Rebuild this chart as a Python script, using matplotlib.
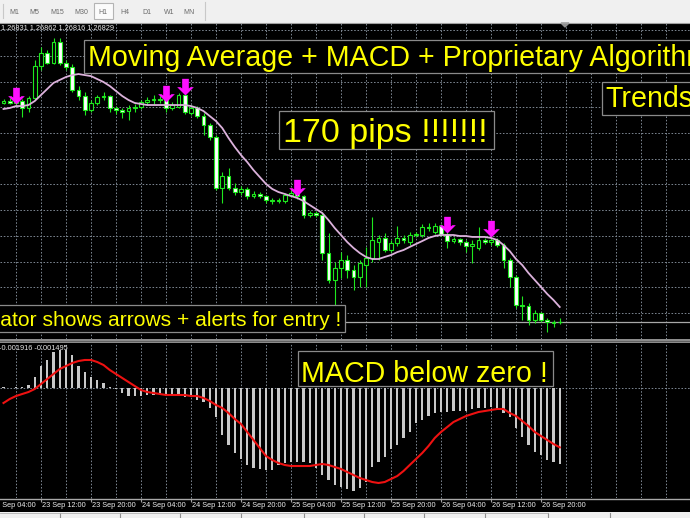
import numpy as np
import pandas as pd
import matplotlib
matplotlib.use('Agg')
import matplotlib.pyplot as plt
from matplotlib.patches import Rectangle
from matplotlib.path import Path

plt.rcParams['font.family'] = ['Liberation Sans', 'DejaVu Sans']

# EURUSD H1, first visible bar 23 Sep 2014 06:00
first_bar = '2014-09-23 06:00'

opens = [1.28534, 1.28549, 1.28534, 1.28549, 1.28495, 1.28573, 1.28821, 1.28923, 1.28845, 1.29008,
         1.28845, 1.28814, 1.28635, 1.28588, 1.28479, 1.28534, 1.28581, 1.28588, 1.28495, 1.28479,
         1.28471, 1.28495, 1.28503, 1.28541, 1.28557, 1.28565, 1.28557, 1.28495, 1.28503, 1.28596,
         1.28456, 1.28495, 1.28432, 1.28362, 1.28270, 1.27873, 1.27965, 1.27873, 1.27841, 1.27865,
         1.27810, 1.27826, 1.27810, 1.27779, 1.27771, 1.27771, 1.27818, 1.27834, 1.27810, 1.27662,
         1.27678, 1.27662, 1.27367, 1.27157, 1.27250, 1.27312, 1.27234, 1.27180, 1.27273, 1.27328,
         1.27452, 1.27484, 1.27390, 1.27445, 1.27484, 1.27452, 1.27507, 1.27507, 1.27569, 1.27530,
         1.27576, 1.27515, 1.27460, 1.27476, 1.27452, 1.27421, 1.27406, 1.27468, 1.27452, 1.27468,
         1.27429, 1.27312, 1.27180, 1.26962, 1.26954, 1.26845, 1.26900, 1.26845, 1.26829, 1.26831]
highs = [1.28565, 1.28573, 1.28573, 1.28565, 1.28588, 1.28868, 1.28970, 1.28946, 1.29040, 1.29040,
         1.28868, 1.28837, 1.28666, 1.28619, 1.28557, 1.28596, 1.28619, 1.28596, 1.28510, 1.28495,
         1.28518, 1.28526, 1.28557, 1.28581, 1.28596, 1.28588, 1.28581, 1.28541, 1.28612, 1.28619,
         1.28518, 1.28510, 1.28456, 1.28378, 1.28285, 1.27996, 1.28028, 1.27912, 1.27888, 1.27881,
         1.27849, 1.27841, 1.27818, 1.27795, 1.27795, 1.27834, 1.27857, 1.27857, 1.27818, 1.27693,
         1.27693, 1.27678, 1.27523, 1.27296, 1.27374, 1.27351, 1.27273, 1.27312, 1.27414, 1.27647,
         1.27507, 1.27523, 1.27468, 1.27576, 1.27507, 1.27530, 1.27530, 1.27592, 1.27600, 1.27600,
         1.27592, 1.27530, 1.27492, 1.27484, 1.27468, 1.27468, 1.27569, 1.27484, 1.27499, 1.27484,
         1.27445, 1.27328, 1.27195, 1.27032, 1.26978, 1.26923, 1.26907, 1.26861, 1.26845, 1.26862]
lows = [1.28526, 1.28526, 1.28518, 1.28425, 1.28463, 1.28557, 1.28790, 1.28837, 1.28837, 1.28829,
        1.28790, 1.28619, 1.28557, 1.28440, 1.28463, 1.28518, 1.28557, 1.28463, 1.28448, 1.28417,
        1.28401, 1.28463, 1.28487, 1.28518, 1.28526, 1.28534, 1.28463, 1.28479, 1.28495, 1.28448,
        1.28440, 1.28417, 1.28285, 1.28246, 1.27857, 1.27756, 1.27857, 1.27818, 1.27818, 1.27787,
        1.27795, 1.27795, 1.27756, 1.27748, 1.27756, 1.27756, 1.27803, 1.27787, 1.27639, 1.27647,
        1.27647, 1.27312, 1.27134, 1.26962, 1.27172, 1.27172, 1.27079, 1.27103, 1.27103, 1.27296,
        1.27312, 1.27374, 1.27374, 1.27421, 1.27445, 1.27429, 1.27492, 1.27492, 1.27538, 1.27515,
        1.27499, 1.27406, 1.27445, 1.27429, 1.27374, 1.27289, 1.27390, 1.27437, 1.27429, 1.27414,
        1.27250, 1.27103, 1.26939, 1.26845, 1.26806, 1.26822, 1.26829, 1.26752, 1.26791, 1.26816]
closes = [1.28549, 1.28534, 1.28549, 1.28495, 1.28573, 1.28821, 1.28923, 1.28845, 1.29008, 1.28845,
          1.28814, 1.28635, 1.28588, 1.28479, 1.28534, 1.28581, 1.28588, 1.28495, 1.28479, 1.28463,
          1.28495, 1.28503, 1.28541, 1.28557, 1.28565, 1.28557, 1.28495, 1.28518, 1.28596, 1.28463,
          1.28495, 1.28432, 1.28362, 1.28270, 1.27873, 1.27965, 1.27873, 1.27841, 1.27865, 1.27810,
          1.27826, 1.27810, 1.27779, 1.27771, 1.27779, 1.27818, 1.27834, 1.27810, 1.27662, 1.27678,
          1.27662, 1.27367, 1.27157, 1.27250, 1.27312, 1.27234, 1.27180, 1.27289, 1.27328, 1.27468,
          1.27484, 1.27390, 1.27445, 1.27484, 1.27468, 1.27507, 1.27515, 1.27569, 1.27561, 1.27576,
          1.27515, 1.27460, 1.27476, 1.27452, 1.27421, 1.27437, 1.27468, 1.27452, 1.27468, 1.27429,
          1.27312, 1.27180, 1.26962, 1.26954, 1.26845, 1.26900, 1.26845, 1.26829, 1.26822, 1.26829]

ma_line = [1.28487, 1.28495, 1.28510, 1.28510, 1.28518, 1.28549, 1.28596, 1.28643, 1.28690, 1.28713,
           1.28736, 1.28751, 1.28759, 1.28751, 1.28743, 1.28720, 1.28697, 1.28666, 1.28627, 1.28588,
           1.28557, 1.28534, 1.28526, 1.28518, 1.28518, 1.28518, 1.28518, 1.28518, 1.28518, 1.28518,
           1.28510, 1.28495, 1.28471, 1.28432, 1.28393, 1.28339, 1.28262, 1.28192, 1.28129, 1.28074,
           1.28012, 1.27958, 1.27904, 1.27865, 1.27841, 1.27826, 1.27810, 1.27795, 1.27771, 1.27740,
           1.27709, 1.27678, 1.27623, 1.27561, 1.27507, 1.27452, 1.27406, 1.27367, 1.27336, 1.27320,
           1.27320, 1.27336, 1.27351, 1.27374, 1.27390, 1.27414, 1.27437, 1.27460, 1.27484, 1.27499,
           1.27507, 1.27507, 1.27507, 1.27499, 1.27499, 1.27492, 1.27492, 1.27492, 1.27484, 1.27468,
           1.27429, 1.27382, 1.27320, 1.27273, 1.27211, 1.27157, 1.27103, 1.27048, 1.27001, 1.26947]

macd_main = [0.000025, 0.000010, 0.000025, 0.000025, 0.000076, 0.000277, 0.000554, 0.000706, 0.000907, 0.000958,
             0.000958, 0.000832, 0.000554, 0.000403, 0.000277, 0.000202, 0.000126, 0.000025, -0.000025, -0.000126,
             -0.000202, -0.000202, -0.000202, -0.000176, -0.000176, -0.000176, -0.000202, -0.000202, -0.000202, -0.000227,
             -0.000227, -0.000302, -0.000353, -0.000504, -0.000731, -0.001184, -0.001436, -0.001638, -0.001789, -0.001940,
             -0.002016, -0.002041, -0.002066, -0.002066, -0.001940, -0.001890, -0.001865, -0.001865, -0.001865, -0.001890,
             -0.002016, -0.002192, -0.002318, -0.002444, -0.002495, -0.002545, -0.002596, -0.002520, -0.002369, -0.001991,
             -0.001865, -0.001739, -0.001537, -0.001436, -0.001260, -0.001109, -0.000882, -0.000806, -0.000706, -0.000630,
             -0.000605, -0.000605, -0.000580, -0.000580, -0.000580, -0.000529, -0.000504, -0.000504, -0.000479, -0.000504,
             -0.000630, -0.000731, -0.001008, -0.001235, -0.001436, -0.001613, -0.001688, -0.001814, -0.001865, -0.001916]
macd_signal = [-0.000378, -0.000277, -0.000202, -0.000151, -0.000101, -0.000025, 0.000101, 0.000227, 0.000353, 0.000479,
               0.000554, 0.000630, 0.000680, 0.000706, 0.000706, 0.000655, 0.000580, 0.000454, 0.000353, 0.000252,
               0.000151, 0.000050, -0.000050, -0.000101, -0.000126, -0.000151, -0.000176, -0.000176, -0.000176, -0.000176,
               -0.000202, -0.000202, -0.000252, -0.000328, -0.000428, -0.000504, -0.000630, -0.000781, -0.000907, -0.001109,
               -0.001310, -0.001512, -0.001714, -0.001814, -0.001890, -0.001940, -0.001966, -0.001966, -0.001966, -0.001966,
               -0.001940, -0.001915, -0.001940, -0.001991, -0.002041, -0.002117, -0.002192, -0.002268, -0.002318, -0.002369,
               -0.002394, -0.002369, -0.002293, -0.002218, -0.002092, -0.001940, -0.001789, -0.001638, -0.001462, -0.001260,
               -0.001109, -0.000983, -0.000857, -0.000781, -0.000706, -0.000655, -0.000605, -0.000580, -0.000554, -0.000529,
               -0.000529, -0.000630, -0.000706, -0.000832, -0.000958, -0.001109, -0.001210, -0.001310, -0.001411, -0.001495]

# sell signals (bar index, arrow tip price)
arrow_bars = [2, 26, 29, 47, 71, 78]
arrow_prices = [1.28526, 1.28541, 1.28596, 1.27810, 1.27523, 1.27492]

grid_prices = [1.2690, 1.2710, 1.2730, 1.2750, 1.2770, 1.2790, 1.2810, 1.2830, 1.2850, 1.2870, 1.2890, 1.2910]
timeframes = ['M1', 'M5', 'M15', 'M30', 'H1', 'H4', 'D1', 'W1', 'MN']

W, H = 690, 518
fig = plt.figure(figsize=(W / 100, H / 100), dpi=100, facecolor='black')


def rect(top, bottom, left=0, right=W):
    return [left / W, 1 - bottom / H, (right - left) / W, (bottom - top) / H]


ax = fig.add_axes(rect(23, 339))
mx = fig.add_axes(rect(343, 498))
tx = fig.add_axes(rect(498, 512))
ui = fig.add_axes([0, 0, 1, 1], zorder=10)
for a in (ax, mx, tx):
    a.set_facecolor('black')
    a.set_xlim(-0.56, 109.84)
    a.set_xticks([])
    a.set_yticks([])
    for s in a.spines.values():
        s.set_visible(False)
ax.set_ylim(1.26698, 1.29156)
mx.set_ylim(-0.002772, 0.001134)
tx.set_ylim(0, 1)

grid_kw = dict(color='#7d8792', lw=0.7, ls=(0, (1.6, 1.8)), zorder=1)
for p in grid_prices:
    ax.axhline(p, **grid_kw)
for gx in range(2, 110, 4):
    ax.axvline(gx, **grid_kw)
    mx.axvline(gx, **grid_kw)
mx.axhline(0, **grid_kw)

# candles
x = np.arange(len(opens))
o, hi, lo, c = (np.array(v) for v in (opens, highs, lows, closes))
ax.vlines(x, lo, hi, color='#1ee81e', lw=0.8, zorder=3)
ax.bar(x, np.maximum(np.abs(c - o), 0.000004), bottom=np.minimum(o, c), width=0.58,
       color=np.where(c >= o, 'black', 'white'), edgecolor='#1ee81e', linewidth=0.8, zorder=4)
ax.axhline(closes[-1], color='#a8a8a8', lw=0.9, zorder=2)
ax.plot(x, ma_line, color='#dcb2dc', lw=1.3, zorder=5)

# thick down arrow, tip at the signal price
arrow = Path([(0, 0), (0.5, 0.5), (0.3, 0.5), (0.2, 0.42), (0.2, 1.0), (-0.2, 1.0),
              (-0.2, 0.42), (-0.3, 0.5), (-0.5, 0.5), (0, 0)], closed=True)
ax.plot(arrow_bars, arrow_prices, ls='none', marker=arrow, ms=24, color='#ff10ff', mew=0, zorder=6)

# MACD
mx.bar(x, macd_main, width=0.36, color='#c8c8c8', zorder=3)
mx.plot(x, macd_signal, color='#ee1111', lw=1.5, zorder=4)

# time axis
times = pd.date_range(first_bar, periods=len(opens), freq='h')
tick_times = pd.date_range('2014-09-23 04:00', times[-1], freq='8h')
tick_pos = (tick_times - times[0]) / pd.Timedelta('1h')
for p, t in zip(tick_pos, tick_times):
    tx.text(p + 0.2, 0.45, t.strftime('%d %b %H:%M'), color='#eeeeee', fontsize=5.3,
            ha='left', va='center')
tx.vlines(tick_pos, 0.72, 1.0, color='#a0a0a0', lw=0.8)

# terminal chrome, in pixel coordinates
ui.set_xlim(0, W)
ui.set_ylim(H, 0)
ui.axis('off')
ui.patch.set_alpha(0)
ui.add_patch(Rectangle((0, 0), W, 22.5, fc='#f0f0f0', ec='none'))
ui.plot([0, W], [22.5, 22.5], color='#a0a0a0', lw=0.8)
ui.add_patch(Rectangle((94, 3), 19, 16, fc='#fbfbfb', ec='#b4b4b4', lw=0.8))
ui.plot([205, 205], [2, 20], color='#c8c8c8', lw=0.8)
ui.plot([3, 3], [4, 18], color='#c8c8c8', lw=0.8)
for lab, bx in zip(timeframes, [14, 34, 57, 81, 103, 125, 147, 169, 189]):
    ui.text(bx, 12, lab, fontsize=5, color='#6a6a6a', ha='center', va='center')
ui.add_patch(Rectangle((0, 339), W, 4, fc='#8c8c8c', ec='none'))
ui.plot([0, W], [341, 341], color='#5a5a5a', lw=0.6)
ui.plot([0, W], [498.5, 498.5], color='#a8a8a8', lw=1.0)
ui.add_patch(Rectangle((0, 512), W, 6, fc='#f0f0f0', ec='none'))
for bx in [60, 120, 180, 241, 304, 364, 424, 485, 548, 610]:
    ui.plot([bx, bx], [513, 518], color='#909090', lw=0.8)
ui.plot([0, 548], [513, 513], color='#b0b0b0', lw=0.6)
ui.fill([561, 569, 565], [23, 23, 27], color='#909090')

ui.text(1, 28.5, '1.26831 1.26862 1.26816 1.26829', fontsize=5.3, color='#e8e8e8', va='center')
ui.text(-1, 349, '-0.001916 -0.001495', fontsize=5.3, color='#e8e8e8', va='center')

box_kw = dict(fc='black', ec='#8a8a8a', lw=0.9, zorder=20)
yellow = '#ffff00'
ui.add_patch(Rectangle((84, 40), 620, 33, **box_kw))
ui.text(88, 66, 'Moving Average + MACD + Proprietary Algorithm', fontsize=20.6, color=yellow,
        va='baseline', zorder=21)
ui.add_patch(Rectangle((602, 82), 100, 33, **box_kw))
ui.text(605, 107, 'Trends', fontsize=20.6, color=yellow, va='baseline', zorder=21)
ui.add_patch(Rectangle((279, 111), 215, 38, **box_kw))
ui.text(283, 142, '170 pips !!!!!!!', fontsize=24.5, color=yellow, va='baseline', zorder=21)
ui.add_patch(Rectangle((-10, 305), 355, 27, **box_kw))
ui.text(341, 325.5, 'Indicator shows arrows + alerts for entry !', fontsize=15.15, color=yellow,
        ha='right', va='baseline', zorder=21)
ui.add_patch(Rectangle((298, 351), 255, 35, **box_kw))
ui.text(301, 382, 'MACD below zero !', fontsize=20.6, color=yellow, va='baseline', zorder=21)

fig.savefig('out.png', dpi=100, facecolor='black')
